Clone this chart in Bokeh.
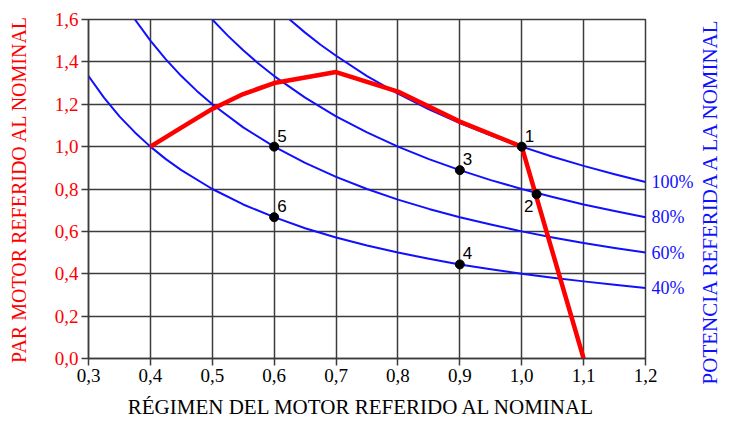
from bokeh.plotting import figure
from bokeh.layouts import row
from bokeh.models import LinearAxis, FixedTicker, Range1d
from bokeh.embed import file_html
from bokeh.resources import INLINE
from bokeh.core.properties import value

# axis ticks
x_ticks = [0.3, 0.4, 0.5, 0.6, 0.7, 0.8, 0.9, 1.0, 1.1, 1.2]
x_tick_labels = ["0,3", "0,4", "0,5", "0,6", "0,7", "0,8", "0,9", "1,0", "1,1", "1,2"]
y_ticks = [0.0, 0.2, 0.4, 0.6, 0.8, 1.0, 1.2, 1.4, 1.6]
y_tick_labels = ["0,0", "0,2", "0,4", "0,6", "0,8", "1,0", "1,2", "1,4", "1,6"]

# constant power curves (torque vs speed)
p100_x = [0.625, 0.65, 0.675, 0.7, 0.75, 0.8, 0.85, 0.9, 0.95, 1.0, 1.05, 1.1, 1.15, 1.2]
p100_y = [1.6, 1.538, 1.481, 1.429, 1.333, 1.25, 1.176, 1.111, 1.053, 1.0, 0.952, 0.909, 0.87, 0.833]
p80_x = [0.5, 0.525, 0.55, 0.575, 0.6, 0.65, 0.7, 0.75, 0.8, 0.85, 0.9, 0.95, 1.0, 1.05, 1.1, 1.15, 1.2]
p80_y = [1.6, 1.524, 1.455, 1.391, 1.333, 1.231, 1.143, 1.067, 1.0, 0.941, 0.889, 0.842, 0.8, 0.762, 0.727, 0.696, 0.667]
p60_x = [0.375, 0.4, 0.425, 0.45, 0.475, 0.5, 0.55, 0.6, 0.65, 0.7, 0.75, 0.8, 0.85, 0.9, 0.95, 1.0, 1.05, 1.1, 1.15, 1.2]
p60_y = [1.6, 1.5, 1.412, 1.333, 1.263, 1.2, 1.091, 1.0, 0.923, 0.857, 0.8, 0.75, 0.706, 0.667, 0.632, 0.6, 0.571, 0.545, 0.522, 0.5]
p40_x = [0.3, 0.325, 0.35, 0.375, 0.4, 0.425, 0.45, 0.5, 0.55, 0.6, 0.65, 0.7, 0.75, 0.8, 0.85, 0.9, 0.95, 1.0, 1.05, 1.1, 1.15, 1.2]
p40_y = [1.333, 1.231, 1.143, 1.067, 1.0, 0.941, 0.889, 0.8, 0.727, 0.667, 0.615, 0.571, 0.533, 0.5, 0.471, 0.444, 0.421, 0.4, 0.381, 0.364, 0.348, 0.333]

curve_labels = ["100%", "80%", "60%", "40%"]
curve_ends = [0.833, 0.667, 0.5, 0.333]

# motor torque curve
motor_x = [0.4, 0.45, 0.5, 0.55, 0.6, 0.7, 0.8, 0.9, 1.0, 1.1]
motor_y = [1.0, 1.09, 1.178, 1.248, 1.3, 1.352, 1.26, 1.118, 1.0, 0.0]

# operating points
pt_x = [1.0, 1.024, 0.9, 0.9, 0.6, 0.6]
pt_y = [1.0, 0.775, 0.889, 0.444, 1.0, 0.667]
pt_labels = ["1", "2", "3", "4", "5", "6"]

RED = "#ff0000"
BLUE = "#1010ff"
GRID = "#3c3c3c"
SERIF = "Liberation Serif"

p = figure(width=696, height=424, output_backend="svg", toolbar_location=None,
           x_range=Range1d(0.3, 1.2), y_range=Range1d(0.0, 1.6),
           min_border_left=88, min_border_right=48, min_border_top=19, min_border_bottom=66)
p.background_fill_color = "white"
p.border_fill_color = "white"
p.outline_line_color = GRID
p.outline_line_width = 1.5

p.xaxis.ticker = FixedTicker(ticks=x_ticks)
p.xaxis.major_label_overrides = dict(zip(x_ticks, x_tick_labels))
p.yaxis.ticker = FixedTicker(ticks=y_ticks)
p.yaxis.major_label_overrides = dict(zip(y_ticks, y_tick_labels))

for ax in (p.xaxis[0], p.yaxis[0]):
    ax.axis_line_color = GRID
    ax.axis_line_width = 1.5
    ax.major_tick_line_color = GRID
    ax.major_tick_line_width = 1.5
    ax.major_tick_out = 7
    ax.major_tick_in = 0
    ax.minor_tick_line_color = None
    ax.major_label_text_font = SERIF
    ax.major_label_text_font_size = "19px"
    ax.axis_label_text_font = SERIF
    ax.axis_label_text_font_style = "normal"
    ax.major_label_standoff = 3

p.xaxis.axis_label = "RÉGIMEN DEL  MOTOR  REFERIDO AL NOMINAL"
p.xaxis.axis_label_text_font_size = "21px"
p.xaxis.axis_label_text_color = "black"
p.xaxis.major_label_text_color = "black"
p.xaxis.axis_label_standoff = 10

p.yaxis.axis_label = "PAR MOTOR REFERIDO AL NOMINAL"
p.yaxis.axis_label_text_font_size = "20px"
p.yaxis.axis_label_text_color = RED
p.yaxis.major_label_text_color = RED
p.yaxis.axis_label_standoff = 22

# right side: power level labels at the curve ends
right = LinearAxis(ticker=FixedTicker(ticks=curve_ends),
                   major_label_overrides=dict(zip(curve_ends, curve_labels)))
right.axis_line_color = None
right.major_tick_line_color = None
right.minor_tick_line_color = None
right.major_tick_out = 0
right.major_tick_in = 0
right.major_label_standoff = 6
right.major_label_text_font = SERIF
right.major_label_text_font_size = "18px"
right.major_label_text_color = BLUE
p.add_layout(right, "right")

p.xgrid.ticker = FixedTicker(ticks=x_ticks)
p.ygrid.ticker = FixedTicker(ticks=y_ticks)
p.grid.grid_line_color = GRID
p.grid.grid_line_width = 1.5
p.grid.grid_line_alpha = 1.0

for cx, cy in ((p100_x, p100_y), (p80_x, p80_y), (p60_x, p60_y), (p40_x, p40_y)):
    p.line(cx, cy, line_color=BLUE, line_width=2, line_join="round")

p.line(motor_x, motor_y, line_color=RED, line_width=4.5, line_join="round")

p.scatter(pt_x, pt_y, size=9, color="black")

up_x = [x for x, l in zip(pt_x, pt_labels) if l != "2"]
up_y = [y for y, l in zip(pt_y, pt_labels) if l != "2"]
up_l = [l for l in pt_labels if l != "2"]
p.text(up_x, up_y, text=up_l, x_offset=3, y_offset=-11,
       text_font=value("Liberation Sans"), text_font_size="17px",
       text_align="left", text_baseline="middle", text_color="black")
p.text([pt_x[1]], [pt_y[1]], text=[pt_labels[1]], x_offset=-3, y_offset=12,
       text_font=value("Liberation Sans"), text_font_size="17px",
       text_align="right", text_baseline="middle", text_color="black")

# narrow strip holding the right-hand title, read bottom to top
q = figure(width=27, height=424, output_backend="svg", toolbar_location=None,
           x_range=Range1d(0, 1), y_range=Range1d(0, 1),
           min_border_left=0, min_border_right=0, min_border_top=19, min_border_bottom=66)
q.xaxis.visible = False
q.grid.visible = False
q.outline_line_color = None
q.border_fill_color = "white"
q.background_fill_color = "white"
q.yaxis.ticker = FixedTicker(ticks=[], minor_ticks=[])
q.yaxis.axis_line_color = None
q.yaxis.major_tick_line_color = None
q.yaxis.minor_tick_line_color = None
q.yaxis.major_tick_out = 0
q.yaxis.major_tick_in = 0
q.yaxis.minor_tick_out = 0
q.yaxis.axis_label = "POTENCIA  REFERIDA  A  LA  NOMINAL"
q.yaxis.axis_label_text_font = SERIF
q.yaxis.axis_label_text_font_size = "21px"
q.yaxis.axis_label_text_font_style = "normal"
q.yaxis.axis_label_text_color = BLUE
q.yaxis.axis_label_standoff = 2

layout = row(p, q)
open("out.html", "w").write(file_html(layout, INLINE))
